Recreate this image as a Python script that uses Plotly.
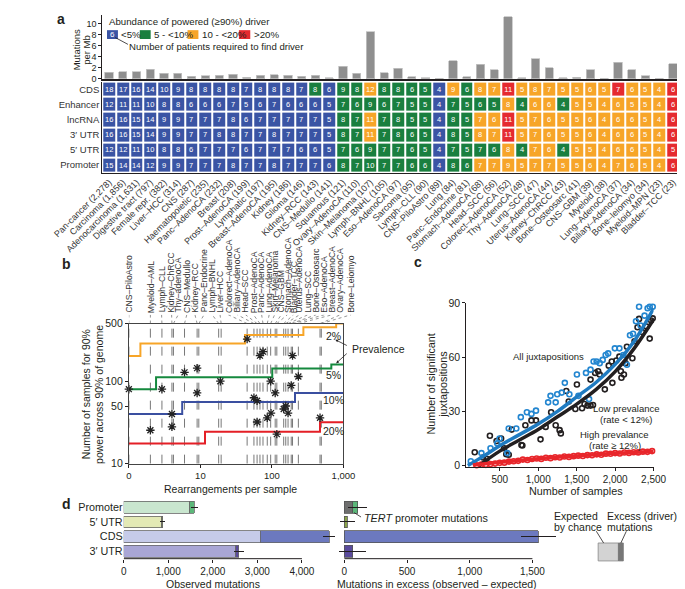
import plotly.graph_objects as go

W, H = 685, 589
def px(x): return x / W
def py(y): return 1 - y / H

FONT = "Liberation Sans, Arial, Helvetica, sans-serif"
TXT = "#231f20"
BLUE, GREEN, ORANGE, RED = "#3a54a4", "#1a7f3f", "#f7a528", "#e52a2f"

# ---------------- panel a data ----------------
cancer_types = ["Pan-cancer (2,278)", "Carcinoma (1,856)", "Adenocarcinoma (1,631)", "Digestive tract (797)",
    "Female repr. (382)", "Liver–HCC (314)", "CNS (287)", "Haematopoietic (235)", "Panc–AdenoCA (232)",
    "Breast (208)", "Prost–AdenoCA (199)", "Lymphatic (197)", "Breast–AdenoCA (195)", "Kidney (186)",
    "Glioma (146)", "Kidney–RCC (143)", "CNS–Medullo (141)", "Squamous (121)", "Ovary–AdenoCA (110)",
    "Skin–Melanoma (107)", "Lymph–BNHL (105)", "Eso–AdenoCA (97)", "Sarcoma (95)", "Lymph–CLL (90)",
    "CNS–PiloAstro (89)", "Lung (84)", "Panc–Endocrine (81)", "Stomach–AdenoCA (68)", "Head–SCC (56)",
    "Colorect–AdenoCA (52)", "Thy–AdenoCA (48)", "Lung–SCC (47)", "Uterus–AdenoCA (44)", "Kidney–ChRCC (43)",
    "Bone–Osteosarc (41)", "CNS–GBM (39)", "Myeloid (38)", "Lung–AdenoCA (37)", "Biliary–AdenoCA (34)",
    "Bone–leiomyo (34)", "Myeloid–MPN (23)", "Bladder–TCC (23)"]
mutations_per_mb = [1.2, 1.3, 1.25, 1.7, 1.0, 0.95, 0.4, 0.5, 0.6, 0.8, 0.3, 0.6, 0.75, 0.6, 0.4, 0.6, 0.15,
    2.3, 0.95, 8.6, 1.1, 1.9, 0.35, 0.15, 0.03, 3.3, 0.35, 2.6, 1.6, 11.3, 0.15, 3.6, 2.0, 0.15, 0.3, 1.6,
    0.1, 3.0, 1.6, 0.5, 0.1, 2.7]
heat_rows = ["CDS", "Enhancer", "lncRNA", "3′ UTR", "5′ UTR", "Promoter"]
patients_cds = [18,17,16,14,10,9,8,8,8,8,7,8,8,8,7,8,6,9,8,12,8,8,6,5,4,9,6,8,7,11,5,8,7,5,5,6,5,7,6,5,4,6]
patients_enh = [12,11,11,10,8,8,6,6,6,7,5,6,7,6,6,6,5,7,6,9,6,7,5,5,4,7,5,6,5,8,4,6,6,4,5,5,4,6,5,5,4,6]
patients_lnc = [16,16,15,14,9,9,7,7,7,8,6,7,7,7,7,7,5,8,7,11,7,8,5,5,4,8,5,7,6,11,5,7,6,5,5,6,4,6,6,5,4,6]
patients_utr3 = [16,16,15,14,9,9,7,7,8,8,7,7,8,7,7,7,5,8,7,11,7,8,6,5,4,8,5,8,7,11,5,7,6,5,5,6,4,6,6,5,4,6]
patients_utr5 = [12,12,11,10,8,8,6,7,7,7,6,7,7,7,6,6,5,7,6,9,7,7,6,5,4,7,5,7,6,8,4,7,6,4,5,5,4,6,6,5,4,5]
patients_prom = [15,14,14,12,9,9,7,7,7,8,7,7,8,7,7,7,6,8,7,10,7,7,6,6,4,8,6,7,7,9,5,7,7,5,5,6,4,7,6,5,4,6]
# abundance class: B <5%, G 5-<10%, O 10-<20%, R >20%
abund_cds  = "BBBBBBBBBBBBBBBGBGGOGGGGBOGOOROOOOOOOROOOR"
abund_enh  = "BBBBBBBBBBBBBBBBBGGGGGGGBGGGGOGOOGOOOOOOOR"
abund_lnc  = "BBBBBBBBBBBBBBBBBGGOGGGGBGGOOROOOOOOOOOOOR"
abund_utr3 = "BBBBBBBBBBBBBBBBBGGOGGGGBGGOOROOOOOOOOOOOR"
abund_utr5 = "BBBBBBBBBBBBBBBBBGGGGGGGBGGGGOGOOGOOOOOOOR"
abund_prom = "BBBBBBBBBBBBBBBBBGGGGGGGBGGOOOOOOOOOOOOOOR"

patients = [patients_cds, patients_enh, patients_lnc, patients_utr3, patients_utr5, patients_prom]
abund = [abund_cds, abund_enh, abund_lnc, abund_utr3, abund_utr5, abund_prom]
code = {"B": 0, "G": 1, "O": 2, "R": 3}
zcodes = [[code[c] for c in row] for row in abund]
for r in patients + abund:
    assert len(r) == 42

# ---------------- panel b data ----------------
b_type_labels = ["CNS–PiloAstro", "Myeloid–AML", "Lymph–CLL", "Kidney–ChRCC", "Thy–adenoCA", "CNS–Medullo",
    "Kidney–RCC", "Panc–Endocrine", "Lymph–BNHL", "Liver–HCC", "Colorect–AdenoCA", "Biliary–AdenoCA",
    "Head–SCC", "Prost–AdenoCA", "Panc–AdenoCA", "Lung–AdenoCA", "Skin–Melanoma", "CNS–GBM",
    "Stomach–AdenoCA", "Bladder–TCC", "Uterus–AdenoCA", "Lung–SCC", "Bone–Osteosarc", "Eso–AdenoCA",
    "Breast–AdenoCA", "Ovary–AdenoCA", "Bone–Leiomyo"]
b_type_rearr = [1, 2, 2.9, 4, 4.2, 6, 9, 9.5, 18, 19.5, 45, 56, 62, 68, 75, 86, 96, 111, 117, 146, 156,
    168, 186, 194, 234, 470, 490]
b_label_px = [79, 102.7, 115, 126, 133.3, 142.7, 151.7, 161.7, 170.7, 179.3, 188.3, 198.3, 207.3, 216,
    225, 233.3, 239.3, 246.7, 253.3, 260, 266.7, 276, 285, 294, 302.7, 311.7, 323.3]
star_rearr = [1, 2, 2.9, 4, 4, 6, 9, 9, 19, 45, 56, 62, 62, 68, 75, 86, 96, 97, 111, 117, 146, 156, 168,
    186, 194, 234, 470]
star_samples = [80, 25.4, 80, 40, 28, 128, 144, 72, 100, 324, 63, 58, 32, 204, 228, 36, 100, 41, 72, 22.8,
    46, 50, 41, 89, 204, 114, 36]
prev_names = ["2%", "5%", "10%", "20%"]
prev_colors = [ORANGE, "#15893e", "#3a4fa0", "#e41f26"]
prev_x = [[1, 1.45, 42, 275, 790, 1000], [1, 2.4, 101, 676, 1000], [1, 5.57, 210, 1000], [1, 11.6, 470, 1000]]
prev_y = [[202, 286, 363, 450, 500, 500], [80, 112, 143, 159, 159], [40, 56, 72, 72], [17.6, 24.3, 31.8, 31.8]]

# ---------------- panel c data ----------------
black_x = [372, 459, 518, 656, 782, 833, 912, 971, 1030, 1097, 1168, 1227, 1278, 1294, 1365, 1397, 1483,
    1503, 1570, 1602, 1641, 1680, 1712, 1680, 1740, 1779, 1799, 1866, 1917, 1956, 1964, 2015, 2055, 2074,
    2082, 2114, 2134, 2153, 2224, 2252, 2291, 2311, 2350, 2409, 2449, 2468, 2488, 175, 282, 329, 557, 585,
    617, 794]
black_y = [16.5, 13.6, 15.0, 19.9, 11.4, 22.3, 25.0, 25.0, 14.5, 21.4, 29.5, 22.3, 19.6, 17.8, 41.3, 35.5,
    31.3, 44.9, 31.7, 34.1, 33.2, 33.2, 33.5, 47.6, 51.3, 52.2, 50.4, 42.2, 55.3, 57.6, 45.8, 58.2, 60.3,
    52.2, 48.6, 50.4, 56.7, 65.8, 59.4, 68.8, 76.6, 81.2, 73.9, 77.0, 70.3, 80.3, 81.5, 7.4, 4.5, 3.8, 9.6,
    6.3, 6.0, 11.1]
blue_x = [498, 617, 715, 774, 853, 912, 971, 1129, 1160, 1227, 1247, 1306, 1346, 1405, 1503, 1523, 1621,
    1661, 1680, 1720, 1759, 1799, 1838, 1877, 1909, 1996, 2055, 2106, 2153, 2193, 2232, 2271, 2311, 2331,
    2382, 2422, 2449, 2488, 124, 262, 380, 467, 597]
blue_y = [15.0, 20.5, 20.5, 26.8, 29.5, 28.6, 30.4, 35.0, 38.6, 35.0, 39.5, 40.4, 45.8, 39.5, 50.4, 38.6,
    51.3, 36.8, 53.1, 57.6, 57.6, 56.7, 58.5, 61.2, 62.1, 64.9, 64.9, 61.2, 55.8, 72.1, 73.0, 79.9, 87.9,
    77.5, 83.0, 87.1, 87.9, 87.9, 2.4, 6.9, 9.6, 12.3, 6.9]
red_x = [200, 260, 320, 380, 440, 500, 560, 620, 680, 740, 800, 860, 920, 980, 1040, 1100, 1160, 1220, 1280,
    1340, 1400, 1460, 1520, 1580, 1640, 1700, 1760, 1820, 1880, 1940, 2000, 2060, 2120, 2180, 2240, 2300,
    2360, 2420, 2480]
red_y = [0.2, 0.5, 0.4, 0.9, 1.1, 1.5, 1.6, 2.2, 2.4, 2.6, 3.3, 3.1, 3.6, 3.9, 3.7, 4.3, 4.1, 4.6, 4.5, 5.0,
    4.8, 5.2, 5.5, 5.3, 5.8, 5.7, 6.2, 6.0, 6.6, 6.5, 6.9, 6.7, 7.2, 7.0, 7.4, 7.3, 7.7, 7.6, 8.0]
fit_blue_x = [85, 300, 500, 750, 1000, 1250, 1500, 1750, 2000, 2250, 2500]
fit_blue_y = [0, 5.5, 11, 17, 23, 30, 38, 46, 56, 69, 87]
fit_black_x = [230, 500, 750, 1000, 1250, 1500, 1750, 2000, 2250, 2500]
fit_black_y = [0, 8, 14, 20, 27, 34, 42, 52, 65, 81]
fit_red_x = [150, 500, 1000, 1500, 2000, 2500]
fit_red_y = [0.3, 1.8, 3.8, 5.3, 6.8, 7.8]

# ---------------- panel d data ----------------
d_regions = ["Promoter", "5′ UTR", "CDS", "3′ UTR"]
observed = [1585, 875, 4610, 2585]
excess = [107, 24, 1548, 65]
excess_err = [75, 58, 140, 110]
tert_excess = 65
light_cols = ["#c9e6cf", "#e3e9b5", "#c6cbe9", "#a9a6d5"]
dark_cols = ["#5cb87a", "#8aa34a", "#6c79bf", "#5a4a9c"]
expected = [o - e for o, e in zip(observed, excess)]

fig = go.Figure()

# panel a bars
fig.add_trace(go.Bar(x=cancer_types, y=mutations_per_mb, width=0.6, marker=dict(color="#8f8f8f",
    line=dict(color="#c4c4c4", width=0.8)), xaxis="x", yaxis="y", showlegend=False, hoverinfo="skip"))
# heatmap
cs = [[0, BLUE], [1/6, BLUE], [1/6, GREEN], [0.5, GREEN], [0.5, ORANGE], [5/6, ORANGE], [5/6, RED], [1, RED]]
fig.add_trace(go.Heatmap(x=cancer_types, y=heat_rows, z=zcodes, text=patients, texttemplate="%{text}",
    textfont=dict(size=7.5, color="white", family=FONT), colorscale=cs, zmin=0, zmax=3, showscale=False,
    xgap=2, ygap=2, xaxis="x2", yaxis="y2", hoverinfo="skip"))

# panel b
vx, vy = [], []
for v in b_type_rearr:
    vx += [v, v, None]; vy += [10, 500, None]
fig.add_trace(go.Scatter(x=vx, y=vy, mode="lines", line=dict(color="#555", width=0.8, dash="dash"),
    xaxis="x3", yaxis="y3", showlegend=False, hoverinfo="skip"))
for xs, ys, c in zip(prev_x, prev_y, prev_colors):
    fig.add_trace(go.Scatter(x=xs, y=ys, mode="lines", line=dict(color=c, width=2, shape="hv"),
        xaxis="x3", yaxis="y3", showlegend=False, hoverinfo="skip"))
fig.add_trace(go.Scatter(x=star_rearr, y=star_samples, mode="markers", cliponaxis=False,
    marker=dict(symbol="asterisk", size=7, color="#222", line=dict(color="#222", width=1.3)),
    xaxis="x3", yaxis="y3", showlegend=False, hoverinfo="skip"))
lx, ly = [], []
for v, p in zip(b_type_rearr, b_label_px):
    lx += [v, 10 ** ((p - 79) / 78.67), None]; ly += [0, 1, None]
fig.add_trace(go.Scatter(x=lx, y=ly, mode="lines", line=dict(color="#666", width=0.7, dash="dot"),
    xaxis="x7", yaxis="y7", showlegend=False, hoverinfo="skip"))

# panel c
for xs, ys, c in [(black_x, black_y, "#231f20"), (blue_x, blue_y, "#2386d0"), (red_x, red_y, "#e8262b")]:
    fig.add_trace(go.Scatter(x=xs, y=ys, mode="markers", cliponaxis=False,
        marker=dict(symbol="circle-open", size=5, color=c, line=dict(color=c, width=1.6)),
        xaxis="x4", yaxis="y4", showlegend=False, hoverinfo="skip"))
for fx, fy, c in [(fit_black_x, fit_black_y, "#231f20"), (fit_blue_x, fit_blue_y, "#1f7bc1"),
                  (fit_red_x, fit_red_y, "#e8262b")]:
    fig.add_trace(go.Scatter(x=fx, y=fy, mode="lines", line=dict(color=c, width=3.5, shape="spline"),
        xaxis="x4", yaxis="y4", showlegend=False, hoverinfo="skip"))

# panel d left
fig.add_trace(go.Bar(y=d_regions, x=expected, orientation="h", width=0.8,
    marker=dict(color=light_cols, line=dict(color="#666", width=0.8)), xaxis="x5", yaxis="y5",
    showlegend=False, hoverinfo="skip"))
fig.add_trace(go.Bar(y=d_regions, x=excess, orientation="h", width=0.8,
    marker=dict(color=dark_cols, line=dict(color="#666", width=0.8)),
    error_x=dict(type="data", array=excess_err, color="#231f20", thickness=1, width=0),
    xaxis="x5", yaxis="y5", showlegend=False, hoverinfo="skip"))
# panel d right
fig.add_trace(go.Bar(y=[d_regions[0]], x=[tert_excess], orientation="h", width=0.8,
    marker=dict(color="#6e6e6e", line=dict(color="#555", width=0.8)), xaxis="x6", yaxis="y6",
    showlegend=False, hoverinfo="skip"))
fig.add_trace(go.Bar(y=d_regions, x=[excess[0] - tert_excess] + excess[1:], orientation="h", width=0.8,
    marker=dict(color=dark_cols, line=dict(color="#555", width=0.8)),
    error_x=dict(type="data", array=excess_err, color="#231f20", thickness=1, width=0),
    xaxis="x6", yaxis="y6", showlegend=False, hoverinfo="skip"))

ax_common = dict(showgrid=False, zeroline=False, tickcolor="#231f20", linecolor="#231f20",
                 tickfont=dict(family=FONT, size=10, color=TXT))
tf = dict(family=FONT, size=10, color=TXT)

fig.update_layout(
    width=W, height=H, autosize=False, margin=dict(l=0, r=0, t=0, b=0),
    paper_bgcolor="white", plot_bgcolor="rgba(0,0,0,0)", barmode="stack",
    font=dict(family=FONT, color=TXT, size=10),
    xaxis=dict(ax_common, domain=[px(49.7), px(685)], range=[-0.5, 41.5], showticklabels=False, ticks="",
               showline=True, linewidth=1.5, anchor="y"),
    yaxis=dict(ax_common, domain=[py(66), py(1.5)], range=[0, 11.55], tickvals=[0, 2, 4, 6, 8, 10],
               ticks="outside", ticklen=3, showline=True, linewidth=1, anchor="x",
               tickfont=dict(family=FONT, size=9, color=TXT)),
    xaxis2=dict(ax_common, domain=[px(49.7), px(685)], range=[-0.5, 41.5], tickangle=-45, ticks="",
                anchor="y2", tickfont=dict(family=FONT, size=9, color="#333")),
    yaxis2=dict(ax_common, domain=[py(162), py(69)], range=[5.5, -0.5], ticks="", anchor="x2",
                tickfont=dict(family=FONT, size=9.5, color="#333")),
    xaxis3=dict(ax_common, type="log", domain=[px(79), px(315)], range=[0, 3], tickvals=[1, 10, 100, 1000],
                ticktext=["0", "10", "100", "1,000"], ticks="outside", ticklen=3, showline=True, mirror=True,
                linecolor="#444", anchor="y3", tickfont=dict(family=FONT, size=9.5, color=TXT)),
    yaxis3=dict(ax_common, type="log", domain=[py(459), py(316)], range=[1, 2.69897],
                tickvals=[10, 50, 100, 500], ticks="outside", ticklen=3, showline=True, mirror=True,
                linecolor="#444", anchor="x3", tickfont=dict(family=FONT, size=10.5, color=TXT)),
    xaxis7=dict(type="log", domain=[px(79), px(79 + 3.3 * 78.67)], range=[0, 3.3], visible=False, anchor="y7"),
    yaxis7=dict(domain=[py(316), py(307)], range=[0, 1], visible=False, anchor="x7"),
    xaxis4=dict(ax_common, domain=[px(450), px(656)], range=[65, 2500], tickvals=[500, 1000, 1500, 2000, 2500],
                ticktext=["500", "1,000", "1,500", "2,000", "2,500"], ticks="outside", ticklen=3,
                showline=True, anchor="y4", tickfont=tf),
    yaxis4=dict(ax_common, domain=[py(462.8), py(295)], range=[-1, 90], tickvals=[0, 30, 60, 90],
                ticks="outside", ticklen=3, showline=True, anchor="x4",
                tickfont=dict(family=FONT, size=10.5, color=TXT)),
    xaxis5=dict(ax_common, domain=[px(73.3), px(73.3 + 4800 * 0.049)], range=[0, 4800],
                tickvals=[0, 1000, 2000, 3000, 4000], ticktext=["0", "1,000", "2,000", "3,000", "4,000"],
                ticks="outside", ticklen=3, showline=False, anchor="y5", tickfont=tf),
    yaxis5=dict(ax_common, domain=[py(556), py(496)], range=[3.5, -0.5], ticks="", showline=False,
                anchor="x5", tickfont=dict(family=FONT, size=10.8, color=TXT)),
    xaxis6=dict(ax_common, domain=[px(316 - 50 * 0.1378), px(316 + 1700 * 0.1378)], range=[-50, 1700],
                tickvals=[0, 500, 1000, 1500], ticktext=["0", "500", "1,000", "1,500"], ticks="outside",
                ticklen=3, showline=False, anchor="y6", tickfont=tf),
    yaxis6=dict(ax_common, domain=[py(556), py(496)], range=[3.5, -0.5], ticks="", showline=False,
                showticklabels=False, anchor="x6"),
)

shapes = []
def rect(x0, y0, x1, y1, fill, line="rgba(0,0,0,0)", lw=0):
    shapes.append(dict(type="rect", xref="paper", yref="paper", x0=px(x0), x1=px(x1), y0=py(y1), y1=py(y0),
                       fillcolor=fill, line=dict(color=line, width=lw), layer="above"))
def seg(x0, y0, x1, y1, color="#231f20", w=0.8):
    shapes.append(dict(type="line", xref="paper", yref="paper", x0=px(x0), x1=px(x1), y0=py(y0), y1=py(y1),
                       line=dict(color=color, width=w), layer="above"))

# legend of panel a
rect(55, 16.5, 67, 25.5, BLUE); rect(91, 16.5, 103, 25.5, GREEN)
rect(143.5, 16.5, 155.5, 25.5, ORANGE); rect(200, 16.5, 212.5, 25.5, RED)
seg(64, 24, 78, 31)
# panel d axis lines
shapes.append(dict(type="line", xref="x5", yref="paper", x0=0, x1=4000, y0=py(556), y1=py(556),
                   line=dict(color="#231f20", width=1)))
shapes.append(dict(type="line", xref="x6", yref="paper", x0=0, x1=1500, y0=py(556), y1=py(556),
                   line=dict(color="#231f20", width=1)))
# TERT leader, legend box in d
seg(326.7, 509, 334.3, 513.5)
rect(595, 540, 617.3, 558.3, "#d3d3d3", "#888", 0.8)
rect(617.3, 540, 622.7, 558.3, "#777", "#777", 0.8)
seg(593, 528, 601, 540); seg(626, 528, 620, 540)
fig.update_layout(shapes=shapes)

anns = []
def ann(x, y, text, size=10, xa="center", ya="middle", angle=0, color=TXT, bold=False):
    if bold:
        text = "<b>" + text + "</b>"
    anns.append(dict(x=px(x), y=py(y), xref="paper", yref="paper", text=text, showarrow=False,
                     xanchor=xa, yanchor=ya, textangle=angle,
                     font=dict(family=FONT, size=size, color=color)))

ann(4.5, 5, "a", 14, bold=True); ann(10, 255, "b", 14, bold=True)
ann(397, 253.5, "c", 14, bold=True); ann(10, 500, "d", 14, bold=True)
# panel a
ann(21, 37, "Mutations", 9.5, angle=-90); ann(32.5, 37, "per Mb", 9.5, angle=-90)
ann(55, 7.5, "Abundance of powered (≥90%) driver", 9.7, xa="left")
ann(61, 21, "6", 8, color="white")
ann(68, 21, "<5%", 9.7, xa="left"); ann(104.5, 21, "5 - <10%", 9.7, xa="left")
ann(157.5, 21, "10 - <20%", 9.7, xa="left"); ann(214, 21, ">20%", 9.7, xa="left")
ann(77, 33, "Number of patients required to find driver", 9.6, xa="left")
# panel b
for name, p in zip(b_type_labels, b_label_px):
    ann(p, 307, name, 8.6, ya="bottom", angle=-90, color="#333")
ann(32, 388, "Number of samples for 90%", 10.5, angle=-90)
ann(46, 388, "power across 90% of genome", 10.5, angle=-90)
ann(191, 484.5, "Rearrangements per sample", 10.5)
for t, yy in zip(prev_names, [328.3, 369, 394, 425.7]):
    ann(304, yy, t, 10.5)
ann(322, 342, "Prevalence", 10.5, xa="left")
for hx, hy, tx, ty in [(306, 332.5, 319, 339), (307, 356.5, 319, 345.5)]:
    anns.append(dict(x=px(hx), y=py(hy), xref="paper", yref="paper", text="", showarrow=True,
                     ax=tx - hx, ay=ty - hy, axref="pixel", ayref="pixel", arrowhead=2, arrowsize=0.7,
                     arrowwidth=0.8, arrowcolor="#231f20"))
# panel c
ann(411.5, 378, "Number of significant", 10.8, angle=-90)
ann(425, 378, "juxtapositions", 10.8, angle=-90)
ann(571, 487, "Number of samples", 10.8)
ann(540, 350, "All juxtapositions", 9.5)
ann(626, 403, "Low prevalance", 9.5); ann(626, 413.5, "(rate < 12%)", 9.5)
ann(613, 429.5, "High prevalance", 9.5); ann(613, 440, "(rate ≥ 12%)", 9.5)
# panel d
ann(171, 581.5, "Observed mutations", 10.5)
ann(418, 581.5, "Mutations in excess (observed – expected)", 10.5)
ann(335, 514.5, "<i>TERT</i> promoter mutations", 10.8, xa="left")
ann(544, 512, "Expected", 10.5, xa="left"); ann(544, 524, "by chance", 10.5, xa="left")
ann(603, 512, "Excess (driver)", 10.5, xa="left"); ann(603, 524, "mutations", 10.5, xa="left")
fig.update_layout(annotations=anns)

fig.write_html("out.html")
